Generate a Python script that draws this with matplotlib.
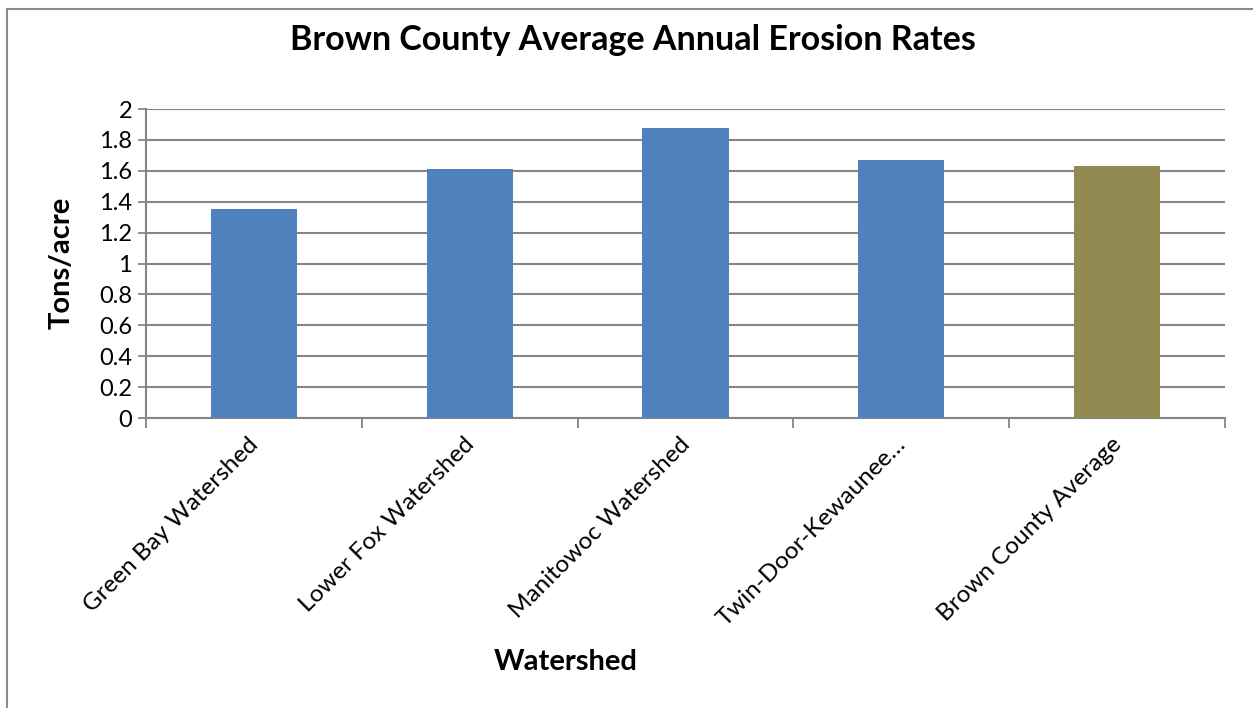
import matplotlib.pyplot as plt
from matplotlib.patches import Rectangle

watersheds = ["Green Bay Watershed", "Lower Fox Watershed", "Manitowoc Watershed",
              "Twin-Door-Kewaunee\u2026", "Brown County Average"]
rates = [1.35, 1.61, 1.88, 1.67, 1.63]
colors = ["#4F81BD", "#4F81BD", "#4F81BD", "#4F81BD", "#938953"]
yticks = [0, 0.2, 0.4, 0.6, 0.8, 1, 1.2, 1.4, 1.6, 1.8, 2]
ytick_labels = ["0", "0.2", "0.4", "0.6", "0.8", "1", "1.2", "1.4", "1.6", "1.8", "2"]

plt.rcParams['font.family'] = ['Lato', 'DejaVu Sans']

W, H = 1253, 708
fig = plt.figure(figsize=(W / 100, H / 100), dpi=100)
ax = fig.add_axes([146 / W, 1 - 418 / H, (1225 - 146) / W, (418 - 109) / H])

# chart frame
fig.patches.append(Rectangle((7 / W, -0.1), 1.1, 1 - 9 / H + 0.1, transform=fig.transFigure,
                             fill=False, edgecolor="#8a8a8a", linewidth=1.5))

x = range(len(watersheds))
ax.bar(x, rates, width=0.4, color=colors, zorder=3)

ax.set_xlim(-0.5, len(watersheds) - 0.5)
ax.set_ylim(0, 2)
ax.set_yticks(yticks)
ax.set_yticklabels(ytick_labels, fontsize=17)
ax.yaxis.grid(True, color="#868686", linewidth=1.5, zorder=0)

# category labels centred under bars, ticks at category boundaries
ax.set_xticks([i - 0.5 for i in range(len(watersheds) + 1)])
ax.set_xticklabels([])
ax.tick_params(axis="x", length=7, width=1.3, color="#868686", direction="out")
ax.tick_params(axis="y", length=6, width=1.3, color="#868686", direction="out", pad=4)
for i, name in enumerate(watersheds):
    ax.text(i - 0.03, -0.1, name, rotation=45, rotation_mode="anchor",
            ha="right", va="top", fontsize=17.5, transform=ax.transData)

for side in ["top", "right"]:
    ax.spines[side].set_visible(False)
for side in ["left", "bottom"]:
    ax.spines[side].set_color("#868686")
    ax.spines[side].set_linewidth(1.5)

fig.text(633 / W, 1 - 40 / H, "Brown County Average Annual Erosion Rates",
         ha="center", va="center", fontsize=24.5, fontweight="bold")
fig.text(62 / W, 1 - 263 / H, "Tons/acre", rotation=90, ha="center", va="center",
         fontsize=21, fontweight="bold")
fig.text(566 / W, 1 - 662 / H, "Watershed", ha="center", va="center",
         fontsize=21, fontweight="bold")

fig.savefig("out.png", dpi=100)
